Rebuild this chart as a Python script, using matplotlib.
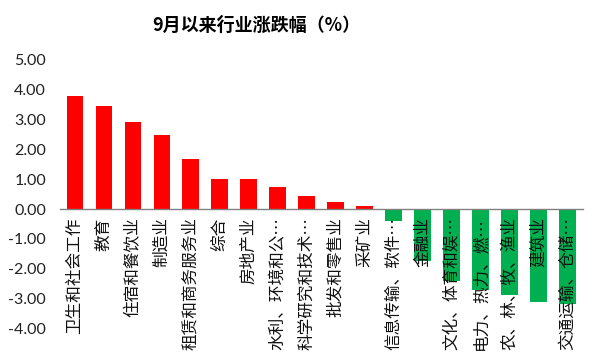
import matplotlib
matplotlib.use("Agg")
import matplotlib.pyplot as plt
from matplotlib.ticker import FormatStrFormatter

plt.rcParams['font.family'] = ['Noto Sans CJK SC', 'DejaVu Sans']
plt.rcParams['axes.unicode_minus'] = False

categories = ["卫生和社会工作", "教育", "住宿和餐饮业", "制造业", "租赁和商务服务业",
              "综合", "房地产业", "水利、环境和公…", "科学研究和技术…", "批发和零售业",
              "采矿业", "信息传输、软件…", "金融业", "文化、体育和娱…", "电力、热力、燃…",
              "农、林、牧、渔业", "建筑业", "交通运输、仓储…"]
values = [3.78, 3.43, 2.91, 2.47, 1.67, 1.00, 1.00, 0.73, 0.43, 0.24, 0.11,
          -0.39, -1.73, -2.40, -2.70, -2.87, -3.09, -3.18]
yticks = [5, 4, 3, 2, 1, 0, -1, -2, -3, -4]
title = "9月以来行业涨跌幅（%）"

fig = plt.figure(figsize=(6.0, 3.59), dpi=100)
ax = fig.add_axes([0.10, 0.0836, 0.872, 0.752])
ax.set_axisbelow(False)

colors = ['#FF0000' if v >= 0 else '#00B050' for v in values]
x = list(range(len(categories)))
ax.bar(x, values, width=0.58, color=colors, zorder=1)

ax.set_xlim(-0.52, 17.55)
ax.set_ylim(-4, 5)
ax.set_yticks(yticks)
ax.yaxis.set_major_formatter(FormatStrFormatter('%.2f'))
for lab in ax.get_yticklabels():
    lab.set_fontfamily('Lato')
ax.tick_params(axis='y', length=0, labelsize=11.5, pad=10, labelcolor='#222222')

ax.spines['bottom'].set_position(('data', 0))
ax.spines['bottom'].set_color('#808080')
ax.spines['bottom'].set_linewidth(1.0)
for s in ['top', 'right', 'left']:
    ax.spines[s].set_visible(False)

ax.set_xticks(x)
ax.set_xticklabels(categories, rotation=90, va='top', ha='center', fontsize=12)
ax.tick_params(axis='x', length=0, pad=6, labelcolor='#111111')

fig.text(0.428, 0.93, title, ha='center', va='center', fontsize=13, fontweight='bold')

fig.savefig("out.png", dpi=100)
